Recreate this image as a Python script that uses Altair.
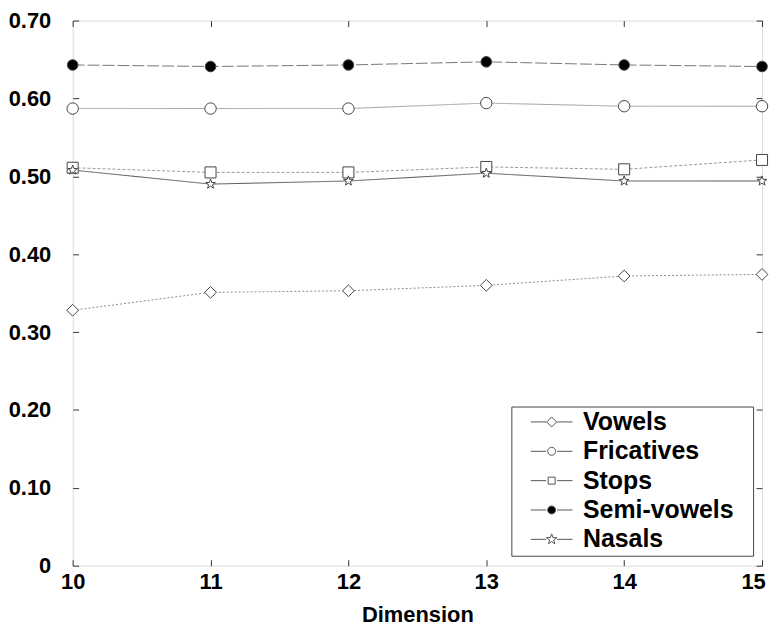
import altair as alt
import pandas as pd

# ---------------- data ----------------
dims = [10, 11, 12, 13, 14, 15]
series = ["Vowels", "Fricatives", "Stops", "Semi-vowels", "Nasals"]

vowels = [0.328, 0.351, 0.353, 0.360, 0.372, 0.374]
fricatives = [0.587, 0.587, 0.587, 0.594, 0.590, 0.590]
stops = [0.511, 0.505, 0.505, 0.512, 0.509, 0.521]
semi_vowels = [0.643, 0.641, 0.643, 0.647, 0.643, 0.641]
nasals = [0.508, 0.490, 0.494, 0.504, 0.494, 0.494]

y_ticks = [0, 0.1, 0.2, 0.3, 0.4, 0.5, 0.6, 0.7]

values = [vowels, fricatives, stops, semi_vowels, nasals]
rows = []
for name, vals in zip(series, values):
    for d, v in zip(dims, vals):
        rows.append({"dim": d, "value": v, "series": name})
df = pd.DataFrame(rows)

# ---------------- styling ----------------
FONT = "Liberation Sans"
STAR = ("M0,-1L0.235,-0.324L0.951,-0.309L0.38,0.124L0.588,0.809L0,0.4"
        "L-0.588,0.809L-0.38,0.124L-0.951,-0.309L-0.235,-0.324Z")

marker_shapes = ["diamond", "circle", "square", "circle", STAR]
marker_sizes = [140, 105, 60, 185, 260]
marker_fill = ["white", "white", "white", "black", "white"]
line_colors = ["#8a8a8a", "#a0a0a0", "#999999", "#777777", "#555555"]
line_dash = [[2, 2], [1, 0], [3, 2], [12, 3], [1, 0]]


def circ(r):
    return f"M{r},0A{r},{r},0,1,1,{-r},0A{r},{r},0,1,1,{r},0Z"


# legend symbols: line segment + marker in one path (units scaled by sqrt(symbolSize)/2)
SEG = "M-4.2,0L-1.1,0M1.1,0L4.2,0"
legend_shapes = [
    SEG + "M0,-1L1,0L0,1L-1,0Z",
    SEG + circ(0.8),
    SEG + "M-0.7,-0.7L0.7,-0.7L0.7,0.7L-0.7,0.7Z",
    SEG + circ(0.8),
    SEG + ("M0,-1.1L0.259,-0.356L1.046,-0.34L0.418,0.136L0.647,0.89L0,0.44"
           "L-0.647,0.89L-0.418,0.136L-1.046,-0.34L-0.259,-0.356Z"),
]

xs = alt.Scale(domain=[10, 15], nice=False, zero=False)
ys = alt.Scale(domain=[0, 0.7], nice=False)

label_expr = "datum.value == 0 ? '0' : format(datum.value, '.2f')"

base = alt.Chart(df)

lines = base.mark_line(strokeWidth=1).encode(
    x=alt.X("dim:Q", scale=xs, axis=alt.Axis(
        values=dims, title="Dimension", tickSize=6, offset=-6, domain=False,
        grid=False, labelFont=FONT, labelFontSize=22, labelFontWeight="bold",
        labelColor="black", labelPadding=6, tickColor="#333333",
        labelOffset={"condition": {"test": "datum.value == 15", "value": -9}, "value": 0},
        titleFont=FONT, titleFontSize=22, titleFontWeight="bold",
        titleColor="black", titlePadding=12, labelFlush=False)),
    y=alt.Y("value:Q", scale=ys, axis=alt.Axis(
        values=y_ticks, labelExpr=label_expr, title=None, tickSize=6,
        offset=-6, domain=False, grid=False, labelFont=FONT,
        labelFontSize=22, labelFontWeight="bold", labelColor="black",
        labelPadding=22, tickColor="#333333")),
    color=alt.Color("series:N", scale=alt.Scale(domain=series, range=line_colors), legend=None),
    strokeDash=alt.StrokeDash("series:N", scale=alt.Scale(domain=series, range=line_dash), legend=None),
    detail="series:N",
)

points = base.mark_point(strokeWidth=1, color="#444444", opacity=1).encode(
    x=alt.X("dim:Q", scale=xs, axis=alt.Axis(
        orient="top", values=dims, labels=False, title=None, tickSize=6,
        offset=-6, domain=False, grid=False, tickColor="#333333")),
    y=alt.Y("value:Q", scale=ys, axis=alt.Axis(
        orient="right", values=y_ticks, labels=False, title=None, tickSize=6,
        offset=-6, domain=False, grid=False, tickColor="#333333")),
    shape=alt.Shape("series:N", scale=alt.Scale(domain=series, range=marker_shapes), legend=None),
    fill=alt.Fill("series:N", scale=alt.Scale(domain=series, range=marker_fill), legend=None),
    size=alt.Size("series:N", scale=alt.Scale(domain=series, range=marker_sizes), legend=None),
)

legend_cfg = alt.Legend(
    title="\u00a0", titleOrient="right", titleFontSize=8, titlePadding=17,
    orient="none", legendX=441, legendY=388,
    strokeColor="#444444", fillColor="white", padding=3,
    symbolSize=100, symbolOffset=25, labelOffset=19, symbolStrokeWidth=1,
    labelFont=FONT, labelFontSize=25, labelFontWeight="bold",
    labelColor="black", rowPadding=3.5,
)

legend_layer = base.mark_point(strokeWidth=1, opacity=1).encode(
    x=alt.X("dim:Q", scale=xs, axis=None),
    y=alt.Y("value:Q", scale=ys, axis=None),
    shape=alt.Shape("series:N", scale=alt.Scale(domain=series, range=legend_shapes),
                    legend=legend_cfg, sort=series),
    stroke=alt.Stroke("series:N", scale=alt.Scale(domain=series, range=["#555555"] * 5),
                      legend=legend_cfg, sort=series),
    fill=alt.Fill("series:N", scale=alt.Scale(domain=series, range=marker_fill),
                  legend=legend_cfg, sort=series),
).transform_filter("false")

chart = alt.layer(lines, points, legend_layer).resolve_axis(
    x="independent", y="independent"
).resolve_scale(
    shape="independent", stroke="independent", fill="independent"
).properties(
    width=693, height=548,
    padding={"left": 0, "top": 0, "right": 0, "bottom": 0},
).configure_view(
    stroke="#333333", strokeWidth=1
).configure(background="white")

chart.save("out.html", embed_options={"renderer": "svg", "actions": False})
